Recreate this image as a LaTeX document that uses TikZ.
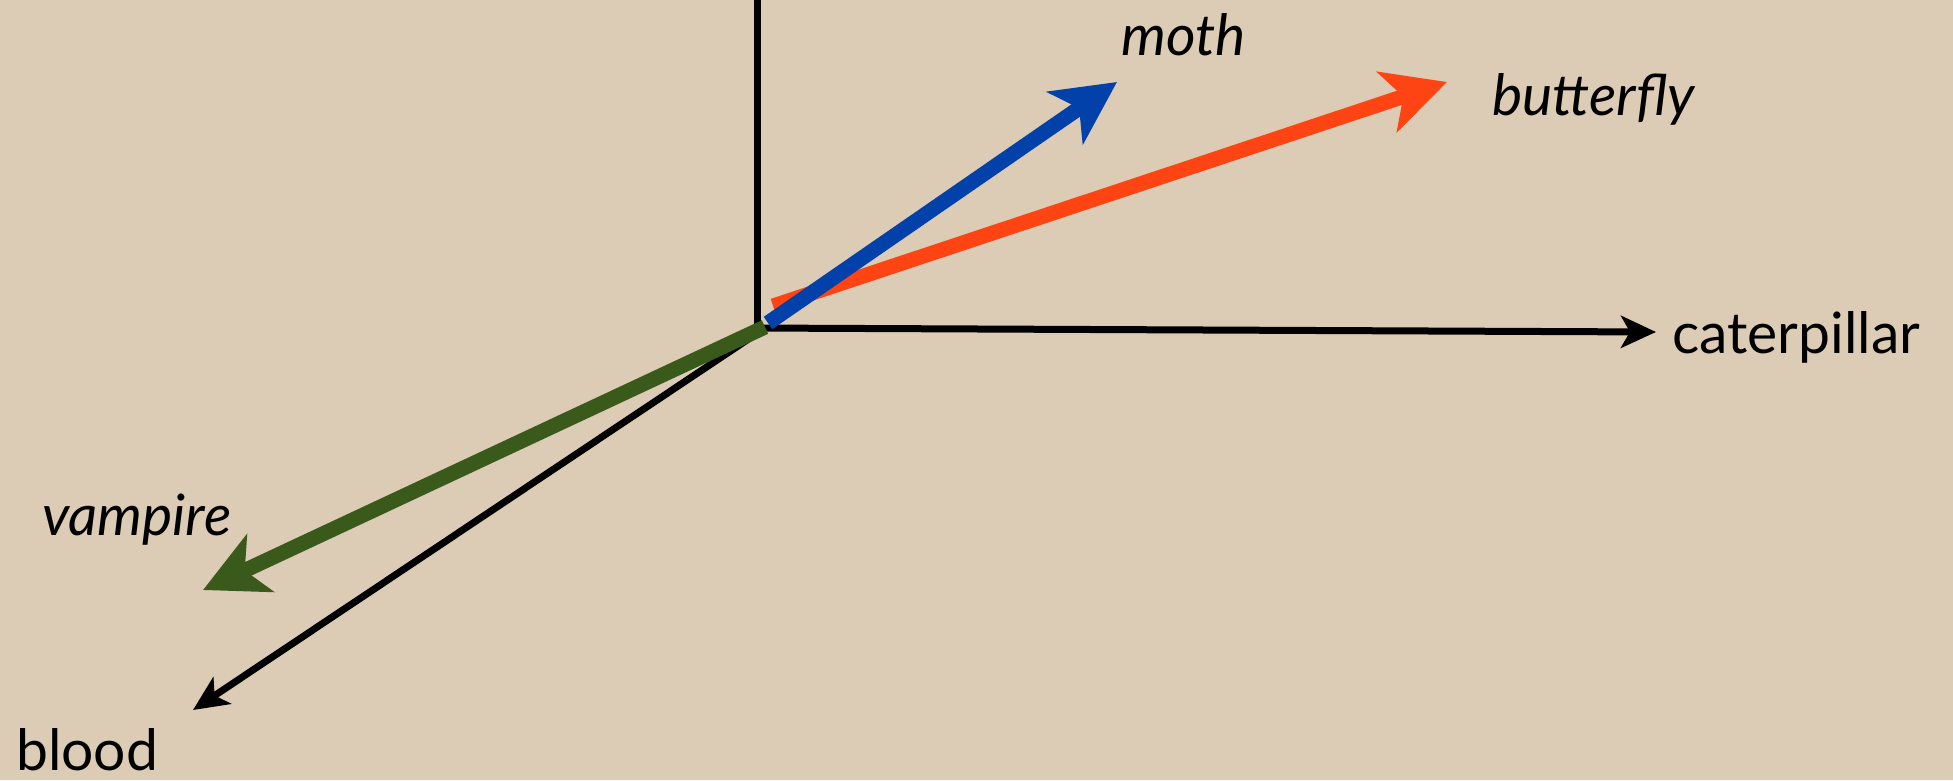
\documentclass[tikz,border=0pt]{standalone}
\usepackage{fontspec}
\setmainfont{Lato}
\usetikzlibrary{arrows.meta}
\definecolor{paper}{RGB}{221,204,181}
\definecolor{mothblue}{RGB}{2,64,170}
\definecolor{flyred}{RGB}{255,68,20}
\definecolor{vampgreen}{RGB}{58,90,28}
\begin{document}
\begin{tikzpicture}[x=1pt,y=-1pt,
  axisline/.style={line width=7pt},
  axisarrow/.style={axisline, -{Stealth[length=35pt,width=32pt,inset=9pt]}},
  vec/.style={line width=15pt, -{Stealth[length=63pt,width=63pt,inset=17pt]}},
  lab/.style={inner sep=0pt, anchor=base west, font=\fontsize{57}{60}\selectfont},
  ilab/.style={lab, font=\fontsize{57}{60}\selectfont\itshape}]
\fill[paper] (0,0) rectangle (1953,780);
\useasboundingbox (0,0) rectangle (1953,780);
% anchor points
\coordinate (top) at (757,-5);
\coordinate (O) at (757,325);
\coordinate (Oh) at (754,328);
\coordinate (Ob) at (762,330);
\coordinate (cat) at (1656,332);
\coordinate (bl) at (193,710);
\coordinate (rs) at (773,306);
\coordinate (rt) at (1447,82);
\coordinate (bs) at (768,323);
\coordinate (bt) at (1117,82);
\coordinate (gs) at (765,327);
\coordinate (gt) at (203,590);
% labels
\node[ilab] (moth) at (1121,55) {moth};
\node[ilab] (butterfly) at (1492,115) {butterfly};
\node[ilab] (vampire) at (42,535) {vampire};
\node[lab] (blood) at (16,770) {blood};
\node[lab] (caterpillar) at (1672,353) {caterpillar};
% axes
\draw[axisline] (top) -- (O);
\draw[axisarrow] (Oh) -- (cat);
\draw[axisarrow] (Ob) -- (bl);
% vectors
\draw[vec, flyred] (rs) -- (rt);
\draw[vec, vampgreen] (gs) -- (gt);
\draw[vec, mothblue] (bs) -- (bt);
\end{tikzpicture}
\end{document}
